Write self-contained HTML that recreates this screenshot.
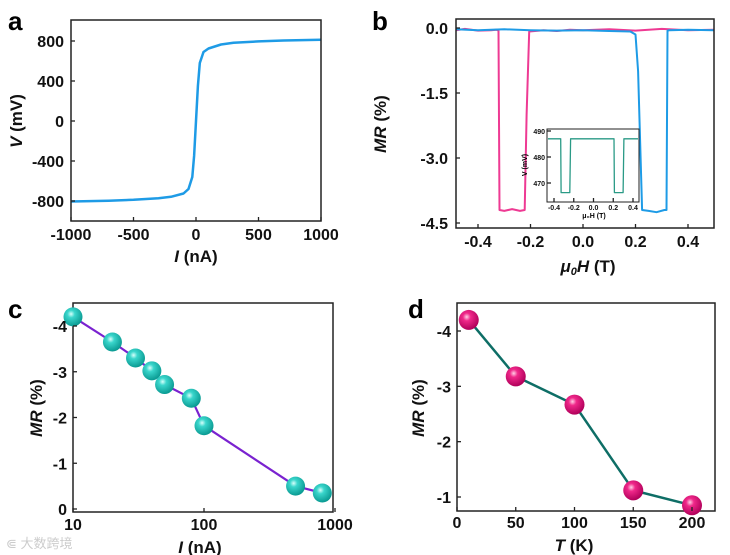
<!DOCTYPE html>
<html><head><meta charset="utf-8"><style>
html,body{margin:0;padding:0;background:#fff}
svg{display:block;font-family:"Liberation Sans","Noto Sans CJK SC",sans-serif}
.t{font-weight:bold;font-size:16px;fill:#111}
.ti{font-weight:bold;font-size:7px;fill:#111}
</style></head><body>
<svg id="fig" width="730" height="555" viewBox="0 0 730 555">
<defs>
<radialGradient id="gT" cx="0.4" cy="0.35" r="0.65"><stop offset="0" stop-color="#d8fffb"/><stop offset="0.3" stop-color="#3ad6cc"/><stop offset="1" stop-color="#0a9a92"/></radialGradient>
<radialGradient id="gM" cx="0.4" cy="0.35" r="0.65"><stop offset="0" stop-color="#ffd0e6"/><stop offset="0.3" stop-color="#f0288a"/><stop offset="1" stop-color="#b0005a"/></radialGradient>
</defs>
<text x="8" y="30" font-size="26" font-weight="bold">a</text>
<text x="372" y="30" font-size="26" font-weight="bold">b</text>
<text x="8" y="318" font-size="26" font-weight="bold">c</text>
<text x="408" y="318" font-size="26" font-weight="bold">d</text>
<text x="6" y="548" font-size="13" fill="#ccc">⋐ 大数跨境</text>
<g id="pa"></g><g id="pb"></g><g id="pc"></g><g id="pd"></g>
</svg>
<script>
// Panel a data
const aI=[-1000,-700,-500,-300,-200,-100,-60,-30,-15,0,15,30,60,100,200,300,500,700,1000];
const aV=[-805,-797,-788,-772,-758,-725,-680,-560,-350,0,350,580,690,725,765,782,796,805,812];
const aXt=[-1000,-500,0,500,1000];
const aYt=[-800,-400,0,400,800];
// Panel b data
const bHp=[-0.5,-0.45,-0.4,-0.35,-0.33,-0.322,-0.318,-0.3,-0.27,-0.24,-0.222,-0.215,-0.205,-0.15,-0.1,-0.05,0,0.1,0.2,0.3,0.4,0.5];
const bMp=[-0.05,-0.02,-0.06,-0.05,-0.04,-0.06,-4.2,-4.22,-4.18,-4.22,-4.2,-2.0,-0.08,-0.05,-0.07,-0.04,-0.05,-0.03,-0.06,-0.02,-0.05,-0.04];
const bHb=[-0.5,-0.4,-0.3,-0.2,-0.1,0,0.1,0.18,0.2,0.21,0.225,0.25,0.28,0.31,0.318,0.322,0.33,0.4,0.5];
const bMb=[-0.03,-0.05,-0.03,-0.05,-0.06,-0.05,-0.07,-0.08,-0.15,-1.0,-4.2,-4.22,-4.25,-4.2,-4.2,-0.06,-0.05,-0.04,-0.05];
const iH=[-0.5,-0.34,-0.332,-0.328,-0.24,-0.232,-0.225,0.2,0.208,0.212,0.3,0.308,0.315,0.5];
const iV=[487,487,487,466.3,466.3,487,487,487,487,466.3,466.3,487,487,487];
const bXt=[-0.4,-0.2,0,0.2,0.4];
const bYt=[0,-1.5,-3,-4.5];
const iXt=[-0.4,-0.2,0,0.2,0.4];
const iYt=[490,480,470];
// Panel c data
const cI=[10,20,30,40,50,80,100,500,800];
const cMR=[-4.2,-3.65,-3.3,-3.02,-2.72,-2.42,-1.82,-0.5,-0.35];
const cXt=[10,100,1000];
const cYt=[-4,-3,-2,-1,0];
// Panel d data
const dT=[10,50,100,150,200];
const dMR=[-4.2,-3.18,-2.67,-1.12,-0.85];
const dXt=[0,50,100,150,200];
const dYt=[-4,-3,-2,-1];

const NS="http://www.w3.org/2000/svg";
function mk(p,tag,at,txt){const e=document.createElementNS(NS,tag);for(const k in at)e.setAttribute(k,at[k]);if(txt!==undefined)e.textContent=txt;p.appendChild(e);return e;}
function lin(d0,d1,r0,r1){return v=>r0+(v-d0)*(r1-r0)/(d1-d0);}
function frame(g,x0,y0,x1,y1,sw){const r=mk(g,'rect',{x:x0,y:y0,width:x1-x0,height:y1-y0,fill:'none',stroke:'#222','stroke-width':sw});

}
function xticks(g,vals,X,yb,ly,cls,fmt){vals.forEach(v=>{mk(g,'line',{x1:X(v),x2:X(v),y1:yb,y2:yb-4,stroke:'#222','stroke-width':1.3});
const t=mk(g,'text',{x:X(v),y:ly,'text-anchor':'middle',class:cls},fmt?fmt(v):String(v));

});}
function yticks(g,vals,Y,xl,lx,cls,fmt){vals.forEach(v=>{mk(g,'line',{x1:xl,x2:xl+4,y1:Y(v),y2:Y(v),stroke:'#222','stroke-width':1.3});
const t=mk(g,'text',{x:lx,y:Y(v)+(cls==='t'?6:3),'text-anchor':'end',class:cls},fmt?fmt(v):String(v));

});}
function path(g,xs,ys,X,Y,col,w,name){const d=xs.map((x,i)=>(i?'L':'M')+X(x).toFixed(1)+','+Y(ys[i]).toFixed(1)).join('');
const p=mk(g,'path',{d:d,fill:'none',stroke:col,'stroke-width':w,'stroke-linejoin':'round'});

return p;}
function title(g,x,y,txt,rot,name){const t=mk(g,'text',{x:x,y:y,'text-anchor':'middle','font-size':17,'font-weight':'bold',fill:'#111',transform:rot?`rotate(-90 ${x} ${y})`:''});t.innerHTML=txt;

}

// Panel a
{const g=document.getElementById('pa');const X=lin(-1000,1000,71,321),Y=lin(-800,800,201,41);
path(g,aI,aV,X,Y,'#1e9be6',2.5,'iv-curve');frame(g,71,20,321,221,1.5);
xticks(g,aXt,X,221,240,'t');yticks(g,aYt,Y,71,64,'t');
title(g,196,262,'<tspan font-style="italic">I</tspan> (nA)',false,'x-axis-title');
title(g,22,121,'<tspan font-style="italic">V</tspan> (mV)',true,'y-axis-title');}
// Panel b
{const g=document.getElementById('pb');const X=lin(-0.4,0.4,478,688),Y=lin(0,-4.5,28,223);
const XX=v=>Math.max(456,Math.min(714,X(v)));
path(g,bHp,bMp,XX,Y,'#ee3a93',2,'mr-curve-pink');path(g,bHb,bMb,XX,Y,'#1e9be6',2,'mr-curve-blue');
frame(g,456,19,714,228,1.5);
xticks(g,bXt,X,228,247,'t',v=>v.toFixed(1));yticks(g,bYt,Y,456,448,'t',v=>v.toFixed(1));
title(g,588,272,'<tspan font-style="italic">μ<tspan font-size="11" dy="3">0</tspan><tspan dy="-3">H</tspan></tspan> (T)',false,'x-axis-title');
title(g,386,124,'<tspan font-style="italic">MR</tspan> (%)',true,'y-axis-title');
// inset
const ig=mk(g,'g',{});
mk(ig,'rect',{x:547,y:129,width:92,height:73,fill:'#fff'});
const IX=lin(-0.4,0.4,554,633),IY=lin(490,470,131,183);
path(ig,iH,iV,v=>Math.max(548,Math.min(638,IX(v))),IY,'#2a9a86',1.3,'inset-curve');
frame(ig,547,129,639,202,1);
xticks(ig,iXt,IX,202,210,'ti',v=>v.toFixed(1));yticks(ig,iYt,IY,547,545,'ti');
const it=mk(ig,'text',{x:594,y:218,'text-anchor':'middle','font-size':7,'font-weight':'bold'},'μ₀H (T)');

const iy=mk(ig,'text',{x:527,y:165,'text-anchor':'middle','font-size':7,'font-weight':'bold',transform:'rotate(-90 527 165)'},'V (mV)');
}
// Panel c
{const g=document.getElementById('pc');const X=v=>73+(Math.log10(v)-1)*131,Y=lin(-4,0,326,509);
frame(g,73,303,333,512,1.5);
path(g,cI,cMR,X,Y,'#7a22d0',2.2,'mr-line');
cI.forEach((v,i)=>{const c=mk(g,'circle',{cx:X(v),cy:Y(cMR[i]),r:9.5,fill:'url(#gT)'});

});
xticks(g,cXt,X,512,530,'t');yticks(g,cYt,Y,73,67,'t');
title(g,200,553,'<tspan font-style="italic">I</tspan> (nA)',false,'x-axis-title');
title(g,42,408,'<tspan font-style="italic">MR</tspan> (%)',true,'y-axis-title');}
// Panel d
{const g=document.getElementById('pd');const X=lin(0,200,457,692),Y=lin(-4,-1,331,497);
frame(g,457,303,715,511,1.5);
path(g,dT,dMR,X,Y,'#0e6e66',2.5,'mr-line');
dT.forEach((v,i)=>{const c=mk(g,'circle',{cx:X(v),cy:Y(dMR[i]),r:10,fill:'url(#gM)'});

});
xticks(g,dXt,X,511,528,'t');yticks(g,dYt,Y,457,451,'t');
title(g,574,551,'<tspan font-style="italic">T</tspan> (K)',false,'x-axis-title');
title(g,424,408,'<tspan font-style="italic">MR</tspan> (%)',true,'y-axis-title');}
</script>
</body></html>
